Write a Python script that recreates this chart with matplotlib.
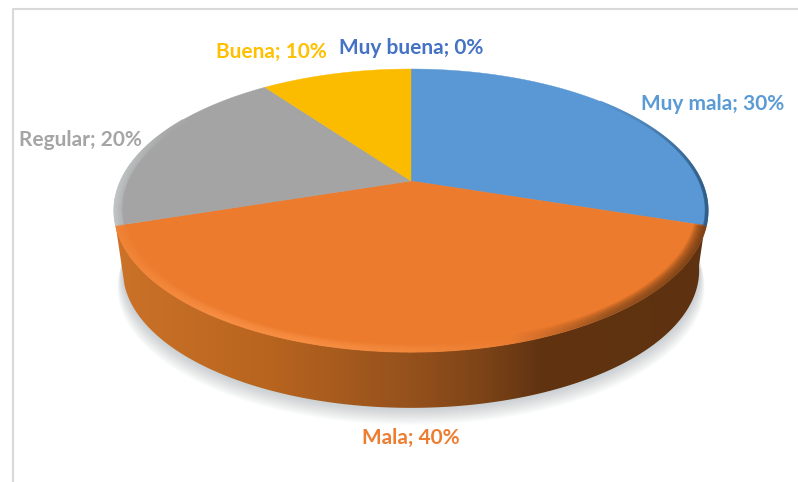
import numpy as np
import matplotlib
matplotlib.use('Agg')
import matplotlib.pyplot as plt
from matplotlib.collections import LineCollection
from matplotlib.colors import LinearSegmentedColormap
from matplotlib.patches import Polygon

categorias = ['Muy mala', 'Mala', 'Regular', 'Buena', 'Muy buena']
valores = [30, 40, 20, 10, 0]
colores = ['#5A98D5', '#EC7B2E', '#A4A4A4', '#FBBC00', '#4472C4']
textos = ['#5B9BD5', '#ED7D31', '#A5A5A5', '#FFC000', '#4472C4']
pos_texto = [(713, 104), (411, 438), (80, 140), (271, 52), (411, 48)]

# perspectiva del disco (pixeles de la imagen)
CX, R, C = 411, 290.5, 0.2085
A, B = -97.6, 181


def tapa(th, r=1.0):
    th = np.radians(th)
    u, v = r * np.cos(th), r * np.sin(th)
    d = 1 + C * v
    return CX + R * u / d, (A * v + B) / d


def base(th, k=0.97, y0=242):
    x, y = tapa(th)
    return CX + k * (x - CX), y0 + k * (y - B)


def trazo(th, r, stops, x0, x1, alpha, lw):
    x, y = tapa(th, r)
    pts = np.column_stack([x, y])
    segs = np.stack([pts[:-1], pts[1:]], axis=1)
    cmap = LinearSegmentedColormap.from_list('r', stops)
    rgba = cmap(np.clip((x[:-1] - x0) / (x1 - x0), 0, 1))
    rgba[:, 3] = alpha
    ax.add_collection(LineCollection(segs, colors=rgba, linewidths=lw, capstyle='round', zorder=5))


fig = plt.figure(figsize=(7.98, 4.82), dpi=100)
ax = fig.add_axes([0, 0, 1, 1])
ax.set_xlim(0, 798)
ax.set_ylim(482, 0)
ax.axis('off')

# marco
ax.plot([12.5, 12.5, 798], [482, 8.5, 8.5], color='#D9D9D9', lw=1.5, zorder=1)

# sombra
th_all = np.linspace(0, 360, 361)
xb, yb = base(th_all)
for g in np.linspace(17, 1, 17):
    ax.fill(CX + (xb - CX) * (1 + g / 900), yb + g, color='#8A949C', alpha=0.028, lw=0, zorder=2)

# lateral
th_f = np.linspace(-162, -10, 200)
xt, yt = tapa(th_f)
xbb, ybb = base(th_f)
lado = Polygon(np.column_stack([np.r_[xt, xbb[::-1]], np.r_[yt, ybb[::-1]]]), transform=ax.transData, fc='none', ec='none')
ax.add_patch(lado)
rampa = LinearSegmentedColormap.from_list('lado', [
    (0.0, '#CC7229'), (0.25, '#B9651F'), (0.5, '#95511C'), (0.62, '#7D4417'), (0.72, '#613311'), (1.0, '#5E3210')])
im = ax.imshow(np.linspace(0, 1, 300)[None, :], extent=[114, 708, 415, 200], cmap=rampa, aspect='auto', zorder=3)
im.set_clip_path(lado)

# porciones de la tapa
ac = np.cumsum([0] + valores)
for i, val in enumerate(valores):
    if val == 0:
        continue
    t = np.linspace(90 - ac[i] * 3.6, 90 - ac[i + 1] * 3.6, 200)
    x, y = tapa(t)
    ax.fill(np.r_[CX, x], np.r_[B, y], color=colores[i], lw=0.3, zorder=4)

# brillo del borde
radios = np.linspace(0.999, 0.962, 12)
alfas = np.linspace(0.55, 0.03, 12)
for r, al in zip(radios, alfas):
    th = np.linspace(-162, -18, 300)
    trazo(th, r, ['#F28538', '#FA9246', '#FA9246', '#F48A3D', '#ED7D31', '#8C4E1E', '#6E3B14'], 118, 705, al, 1.2)
for r, al in zip(radios[:8], alfas[:8]):
    th = np.linspace(150, 198, 100)
    trazo(th, r, ['#C4C9CA', '#A9A9A9'], 115, 170, al, 1.2)
for r, al in zip(radios[:3], alfas[:3]):
    th = np.linspace(-18, 42, 200)
    trazo(th, r, ['#5A98D5', '#4A80B2', '#2F5C86'], 600, 705, al, 1.2)

# etiquetas
for i, cat in enumerate(categorias):
    ax.text(pos_texto[i][0], pos_texto[i][1], f'{cat}; {valores[i]}%', color=textos[i],
            family='Lato', weight='bold', fontsize=15, ha='center', va='center', zorder=6)

fig.savefig('out.png', dpi=100, facecolor='white')
